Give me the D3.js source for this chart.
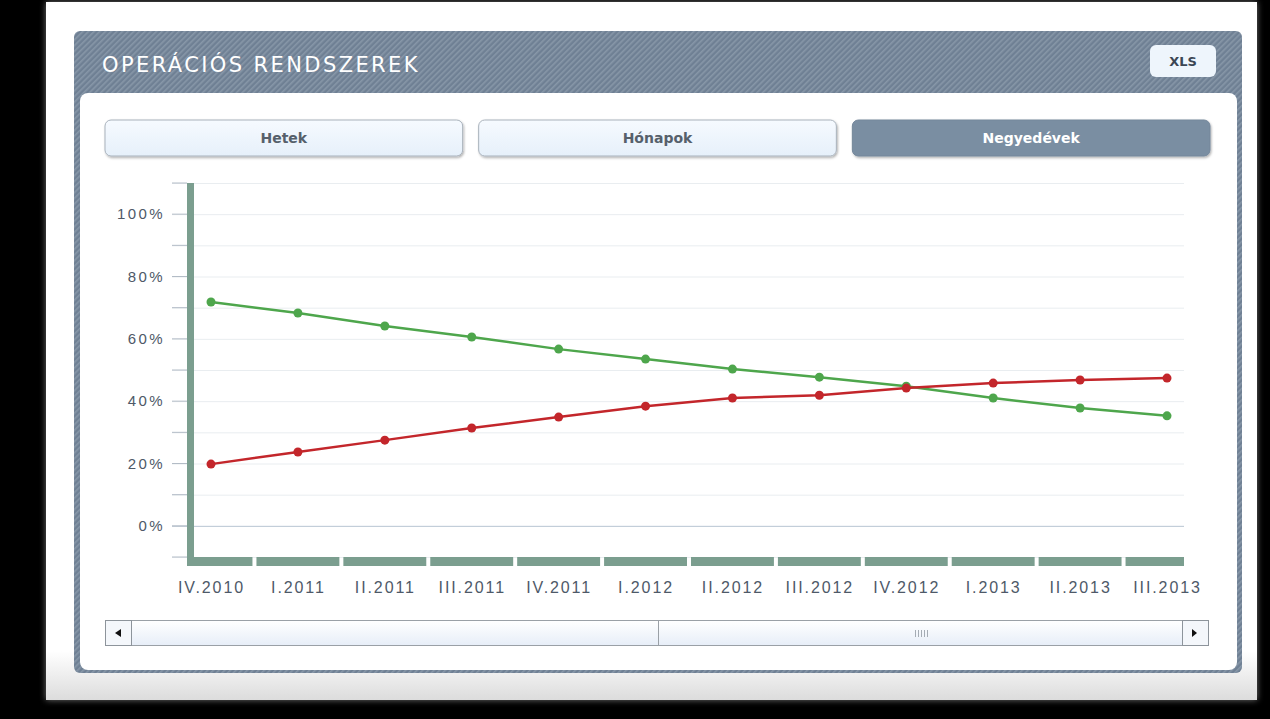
<!DOCTYPE html>
<html>
<head>
<meta charset="utf-8">
<script src="https://cdn.jsdelivr.net/npm/d3@7"></script>
<style>
  body { margin: 0; background: #000; }
  svg { display: block; font-family: Verdana, "DejaVu Sans", sans-serif; }
  .grid line { stroke: #e9edf0; }
  .grid path { display: none; }
  .ylab path, .ylab line { display: none; }
  .ylab text { fill: #4e5968; font-size: 15px; letter-spacing: 2.4px; }
  .xlab path, .xlab line { display: none; }
  .xlab text { fill: #4e5968; font-size: 16px; letter-spacing: 1.9px; }
</style>
</head>
<body>
<svg id="chart" width="1270" height="719"></svg>
<script>
// quarters shown on the x axis
const quarters = ["IV.2010", "I.2011", "II.2011", "III.2011", "IV.2011", "I.2012",
                  "II.2012", "III.2012", "IV.2012", "I.2013", "II.2013", "III.2013"];
// share values in percent
const greenSeries = [71.8, 68.3, 64.1, 60.6, 56.7, 53.5, 50.3, 47.7, 44.8, 41.0, 37.8, 35.3];
const redSeries   = [19.8, 23.7, 27.5, 31.4, 34.9, 38.4, 41.0, 41.9, 44.2, 45.8, 46.8, 47.4];
const yTickLabels = [0, 20, 40, 60, 80, 100];
const gridValues  = [-10, 0, 10, 20, 30, 40, 50, 60, 70, 80, 90, 100, 110];
const tabs = ["Hetek", "Hónapok", "Negyedévek"];
const activeTab = "Negyedévek";
const title = "OPERÁCIÓS RENDSZEREK";

const svg = d3.select("#chart");
const defs = svg.append("defs");

// diagonal stripes of the header band
const pat = defs.append("pattern")
    .attr("id", "stripes")
    .attr("patternUnits", "userSpaceOnUse")
    .attr("width", 4).attr("height", 4)
    .attr("patternTransform", "rotate(45)");
pat.append("rect").attr("width", 4).attr("height", 4).attr("fill", "#6f8094");
pat.append("rect").attr("width", 1.6).attr("height", 4).attr("fill", "#8797a8");

const frameGrad = defs.append("linearGradient").attr("id", "frameGrad")
    .attr("x1", 0).attr("y1", 0).attr("x2", 0).attr("y2", 1);
frameGrad.append("stop").attr("offset", "0.93").attr("stop-color", "#ffffff");
frameGrad.append("stop").attr("offset", "1").attr("stop-color", "#dcdcdc");

const btnGrad = defs.append("linearGradient").attr("id", "btnGrad")
    .attr("x1", 0).attr("y1", 0).attr("x2", 0).attr("y2", 1);
btnGrad.append("stop").attr("offset", "0").attr("stop-color", "#f6faff");
btnGrad.append("stop").attr("offset", "1").attr("stop-color", "#e6f0fa");

const trackGrad = defs.append("linearGradient").attr("id", "trackGrad")
    .attr("x1", 0).attr("y1", 0).attr("x2", 0).attr("y2", 1);
trackGrad.append("stop").attr("offset", "0").attr("stop-color", "#ffffff");
trackGrad.append("stop").attr("offset", "1").attr("stop-color", "#e7eef8");

const glow = defs.append("filter").attr("id", "glow")
    .attr("x", -0.03).attr("y", -0.03).attr("width", 1.06).attr("height", 1.06);
glow.append("feGaussianBlur").attr("in", "SourceAlpha").attr("stdDeviation", 3).attr("result", "b");
glow.append("feFlood").attr("flood-color", "#ffffff").attr("flood-opacity", 0.45);
glow.append("feComposite").attr("in2", "b").attr("operator", "in");
const gm = glow.append("feMerge");
gm.append("feMergeNode");
gm.append("feMergeNode").attr("in", "SourceGraphic");

const btnShadow = defs.append("filter").attr("id", "btnShadow")
    .attr("x", -0.05).attr("y", -0.2).attr("width", 1.1).attr("height", 1.5);
btnShadow.append("feDropShadow").attr("dx", 1).attr("dy", 1.5).attr("stdDeviation", 1)
    .attr("flood-color", "#000").attr("flood-opacity", 0.3);

// page background and frames
svg.append("rect").attr("width", 1270).attr("height", 719).attr("fill", "#000");
svg.append("rect")
    .attr("x", 46).attr("y", 2).attr("width", 1211).attr("height", 698)
    .attr("fill", "url(#frameGrad)").attr("filter", "url(#glow)");
svg.append("rect")
    .attr("x", 74).attr("y", 31).attr("width", 1168).attr("height", 642)
    .attr("rx", 6).attr("fill", "url(#stripes)");
svg.append("rect")
    .attr("x", 80).attr("y", 93).attr("width", 1157).attr("height", 577)
    .attr("rx", 8).attr("fill", "#fff");

svg.append("text")
    .attr("x", 102).attr("y", 72)
    .attr("fill", "#fff")
    .attr("font-size", 21)
    .attr("letter-spacing", 2.4)
    .text(title);

// XLS button
svg.append("rect")
    .attr("x", 1150).attr("y", 45).attr("width", 66).attr("height", 32)
    .attr("rx", 6).attr("fill", "#eef5fc");
svg.append("text")
    .attr("x", 1183).attr("y", 66)
    .attr("text-anchor", "middle")
    .attr("font-size", 13).attr("font-weight", "bold")
    .attr("fill", "#3b4654")
    .text("XLS");

// period tabs
const tabScale = d3.scaleBand().domain(tabs).range([105, 1226]);
const tabW = tabScale.bandwidth() - 16;
const tabG = svg.append("g").selectAll("g").data(tabs).join("g");
tabG.append("rect")
    .attr("x", d => tabScale(d)).attr("y", 120)
    .attr("width", tabW).attr("height", 36)
    .attr("rx", 6)
    .attr("fill", d => d === activeTab ? "#7a8ea2" : "url(#btnGrad)")
    .attr("stroke", d => d === activeTab ? "#74879b" : "#a9b2bc")
    .attr("filter", "url(#btnShadow)");
tabG.append("text")
    .attr("x", d => tabScale(d) + tabW / 2).attr("y", 143)
    .attr("text-anchor", "middle")
    .attr("font-size", 14).attr("font-weight", "bold")
    .attr("fill", d => d === activeTab ? "#fff" : "#56606b")
    .text(d => d);

// scales
const x = d3.scalePoint().domain(quarters).range([211, 1167]);
const y = d3.scaleLinear().domain([-10, 110]).range([557, 183]);
const step = x.step();
const plotLeft = 187, plotRight = 1184;

// grid lines
svg.append("g")
    .attr("class", "grid")
    .attr("transform", `translate(${plotRight},0)`)
    .call(d3.axisLeft(y).tickValues(gridValues).tickSize(plotRight - 172).tickFormat(""));
svg.selectAll(".grid .tick")
    .filter(d => d === 0)
    .select("line").style("stroke", "#b7c4d2");
// little tick stubs left of the axis bar
svg.append("g").selectAll("line").data(gridValues).join("line")
    .attr("x1", 172).attr("x2", plotLeft)
    .attr("y1", d => y(d)).attr("y2", d => y(d))
    .attr("stroke", "#b3bcc6");

// y labels
svg.append("g")
    .attr("class", "ylab")
    .attr("transform", "translate(165,0)")
    .call(d3.axisLeft(y).tickValues(yTickLabels).tickSize(0).tickPadding(0).tickFormat(d => d + "%"));

// axis bars
const axisColor = "#7b9e8f";
svg.append("g").selectAll("rect").data(quarters).join("rect")
    .attr("x", (d, i) => i === 0 ? plotLeft : x(d) - step / 2 + 2)
    .attr("y", y(-10))
    .attr("width", (d, i) => {
      const x0 = i === 0 ? plotLeft : x(d) - step / 2 + 2;
      const x1 = i === quarters.length - 1 ? plotRight : x(d) + step / 2 - 2;
      return x1 - x0;
    })
    .attr("height", 9)
    .attr("fill", axisColor);
svg.append("rect")
    .attr("x", plotLeft).attr("y", y(110))
    .attr("width", 7).attr("height", y(-10) + 9 - y(110))
    .attr("fill", axisColor);

// x labels
svg.append("g")
    .attr("class", "xlab")
    .attr("transform", `translate(0,${y(-10) + 9})`)
    .call(d3.axisBottom(x).tickSize(0).tickPadding(16));

// series
const series = [
  {values: greenSeries, color: "#4ea64c"},
  {values: redSeries, color: "#c3262b"}
];
const line = d3.line().x((d, i) => x(quarters[i])).y(d => y(d));
series.forEach(s => {
  svg.append("path")
      .datum(s.values)
      .attr("d", line)
      .attr("fill", "none")
      .attr("stroke", s.color)
      .attr("stroke-width", 2.5);
  svg.append("g").selectAll("circle").data(s.values).join("circle")
      .attr("cx", (d, i) => x(quarters[i]))
      .attr("cy", d => y(d))
      .attr("r", 4.5)
      .attr("fill", s.color);
});

// scrollbar
const sb = svg.append("g");
sb.append("rect").attr("x", 105.5).attr("y", 620.5).attr("width", 1103).attr("height", 25)
    .attr("fill", "url(#trackGrad)").attr("stroke", "#9aa0a6");
sb.append("rect").attr("x", 105.5).attr("y", 620.5).attr("width", 26).attr("height", 25)
    .attr("fill", "#f4f7fb").attr("stroke", "#8d949b");
sb.append("path").attr("d", "M115,633 L121,629 L121,637 Z").attr("fill", "#111");
sb.append("rect").attr("x", 658.5).attr("y", 620.5).attr("width", 525).attr("height", 25)
    .attr("fill", "url(#trackGrad)").attr("stroke", "#9aa0a6");
sb.append("rect").attr("x", 1182.5).attr("y", 620.5).attr("width", 26).attr("height", 25)
    .attr("fill", "#f4f7fb").attr("stroke", "#8d949b");
sb.append("path").attr("d", "M1197,633 L1192,629 L1192,637 Z").attr("fill", "#111");
sb.append("g").selectAll("line").data(d3.range(5)).join("line")
    .attr("x1", d => 915.5 + d * 3).attr("x2", d => 915.5 + d * 3)
    .attr("y1", 630).attr("y2", 637)
    .attr("stroke", "#a5acb4");
</script>
</body>
</html>
